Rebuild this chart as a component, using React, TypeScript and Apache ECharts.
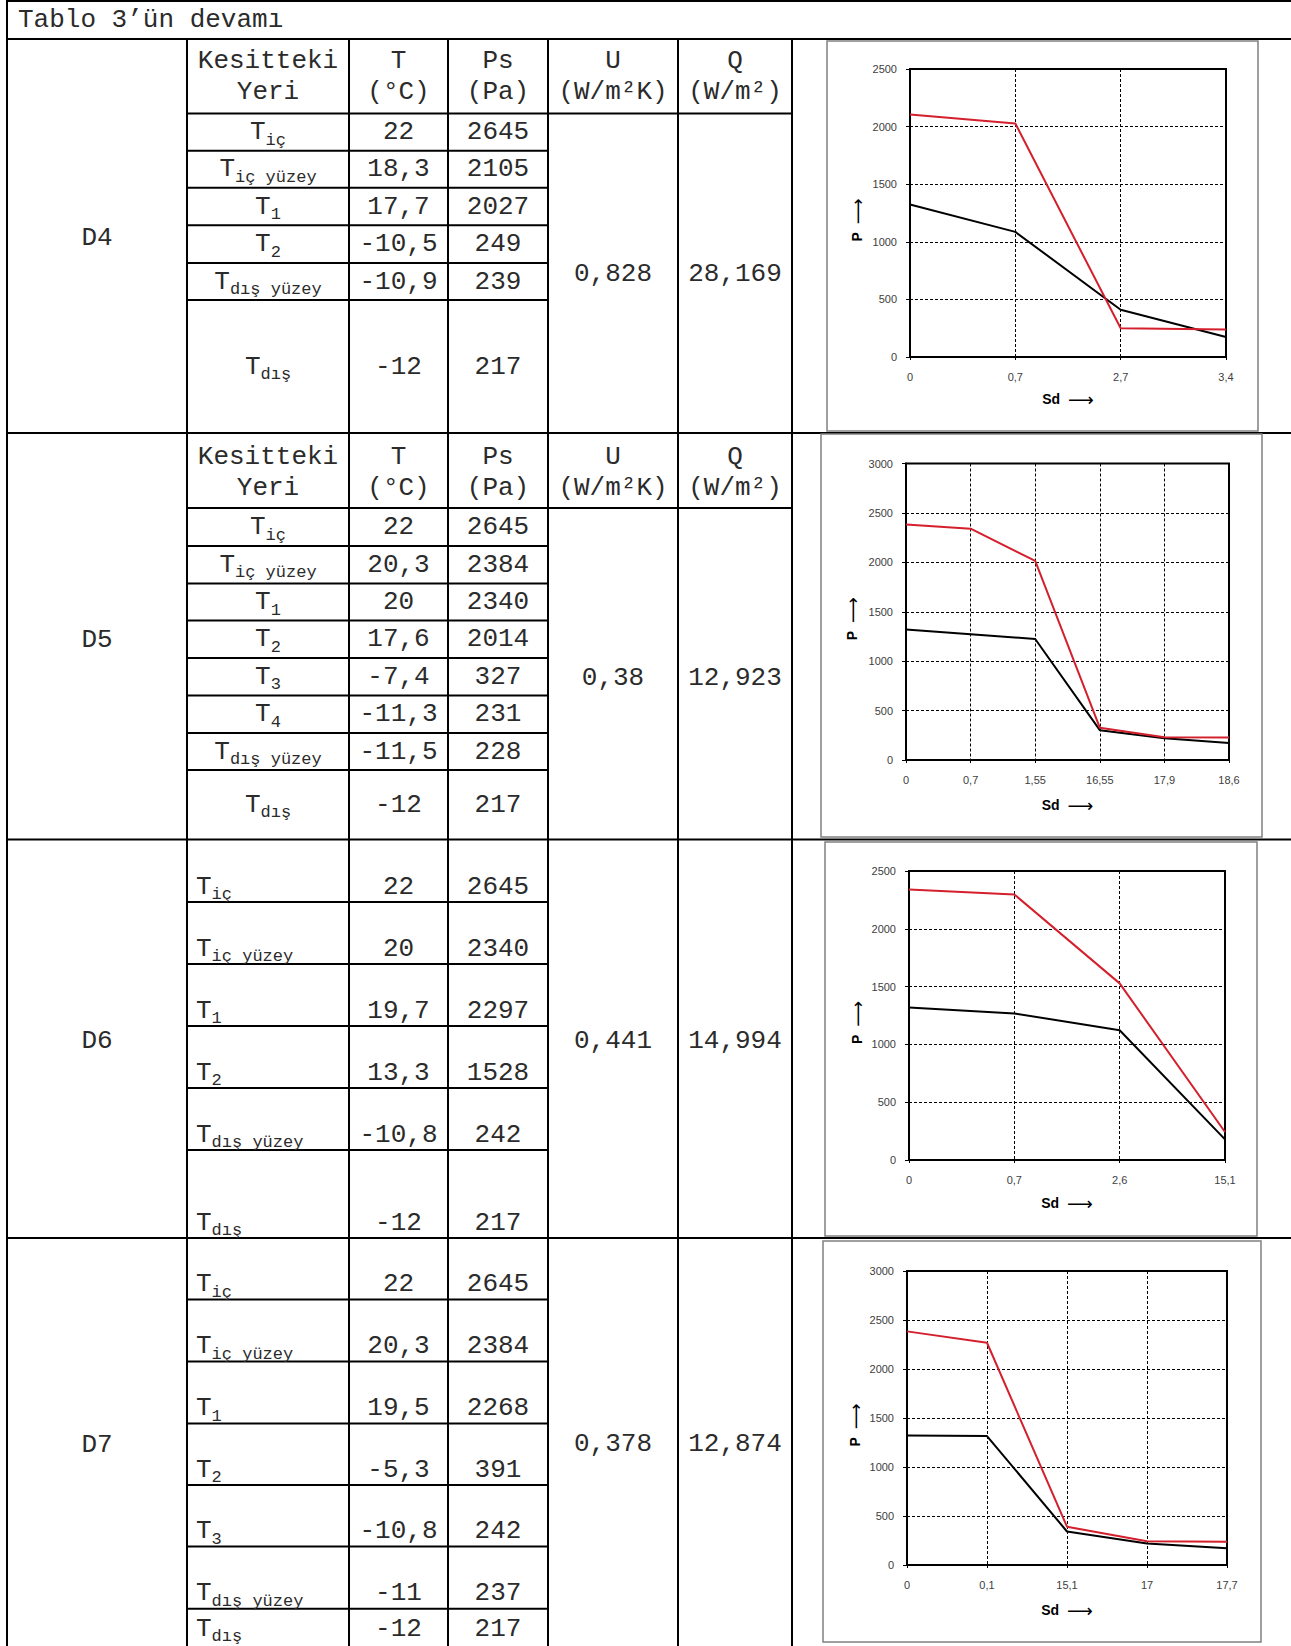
import React, { useEffect, useRef } from 'react';
import * as echarts from 'echarts';

// ---------------- DATA ----------------
// Chart data (Sd categories, saturation pressure Ps = red, vapour pressure P = black)
const d4Sd = ['0', '0,7', '2,7', '3,4'];
const d4Ps = [2105, 2027, 249, 239];
const d4P = [1323, 1086, 410, 174];

const d5Sd = ['0', '0,7', '1,55', '16,55', '17,9', '18,6'];
const d5Ps = [2384, 2340, 2014, 327, 231, 228];
const d5P = [1320, 1272, 1224, 302, 219, 172];

const d6Sd = ['0', '0,7', '2,6', '15,1'];
const d6Ps = [2340, 2297, 1528, 242];
const d6P = [1320, 1268, 1122, 178];

const d7Sd = ['0', '0,1', '15,1', '17', '17,7'];
const d7Ps = [2384, 2268, 391, 242, 237];
const d7P = [1322, 1316, 342, 220, 172];

// Table data
const d4Labels = [['T', 'iç'], ['T', 'iç yüzey'], ['T', '1'], ['T', '2'], ['T', 'dış yüzey'], ['T', 'dış']];
const d4T = ['22', '18,3', '17,7', '-10,5', '-10,9', '-12'];
const d4PsTxt = ['2645', '2105', '2027', '249', '239', '217'];
const d4U = '0,828';
const d4Q = '28,169';

const d5Labels = [['T', 'iç'], ['T', 'iç yüzey'], ['T', '1'], ['T', '2'], ['T', '3'], ['T', '4'], ['T', 'dış yüzey'], ['T', 'dış']];
const d5T = ['22', '20,3', '20', '17,6', '-7,4', '-11,3', '-11,5', '-12'];
const d5PsTxt = ['2645', '2384', '2340', '2014', '327', '231', '228', '217'];
const d5U = '0,38';
const d5Q = '12,923';

const d6Labels = [['T', 'iç'], ['T', 'iç yüzey'], ['T', '1'], ['T', '2'], ['T', 'dış yüzey'], ['T', 'dış']];
const d6T = ['22', '20', '19,7', '13,3', '-10,8', '-12'];
const d6PsTxt = ['2645', '2340', '2297', '1528', '242', '217'];
const d6U = '0,441';
const d6Q = '14,994';

const d7Labels = [['T', 'iç'], ['T', 'iç yüzey'], ['T', '1'], ['T', '2'], ['T', '3'], ['T', 'dış yüzey'], ['T', 'dış']];
const d7T = ['22', '20,3', '19,5', '-5,3', '-10,8', '-11', '-12'];
const d7PsTxt = ['2645', '2384', '2268', '391', '242', '237', '217'];
const d7U = '0,378';
const d7Q = '12,874';

const titleText = 'Tablo 3’ün devamı';
const headerTop = ['Kesitteki', 'T', 'Ps', 'U', 'Q'];
const headerBottom = ['Yeri', '(°C)', '(Pa)', '(W/m²K)', '(W/m²)'];
const xName = 'Sd';
const yName = 'P';

// ---------------- LAYOUT ----------------
const W = 1291;
const H = 1646;
const MONO = "'Courier New', 'Liberation Mono', monospace";
const SANS = "Arial, 'Liberation Sans', sans-serif";
const FS = 26;
const SUB = 17;
const TXT = '#2b2b2b';

const colX = [7, 187, 349, 448, 548, 678, 792];
const colCenter = { d: 97, label: 268, t: 398.5, ps: 498, u: 613, q: 735 };

const blocks = [
  {
    name: 'D4', labels: d4Labels, t: d4T, ps: d4PsTxt, u: d4U, q: d4Q,
    top: 39, header: { y1: 60.5, y2: 91.5, bottom: 113.5 },
    rows: [113.5, 150.7, 187.7, 225.3, 263, 300, 433],
    mode: 'center', dY: 238, uY: 274,
  },
  {
    name: 'D5', labels: d5Labels, t: d5T, ps: d5PsTxt, u: d5U, q: d5Q,
    top: 433, header: { y1: 456.5, y2: 487.5, bottom: 508 },
    rows: [508, 546, 583.5, 620.5, 658, 695.5, 733, 770, 839.5],
    mode: 'center', dY: 640, uY: 677.5,
  },
  {
    name: 'D6', labels: d6Labels, t: d6T, ps: d6PsTxt, u: d6U, q: d6Q,
    top: 839.5, header: null,
    rows: [839.5, 902, 964, 1026, 1088, 1150, 1238],
    mode: 'bottom', dY: 1041, uY: 1041,
  },
  {
    name: 'D7', labels: d7Labels, t: d7T, ps: d7PsTxt, u: d7U, q: d7Q,
    top: 1238, header: null,
    rows: [1238, 1299.5, 1361.5, 1423.5, 1485, 1546.5, 1608.7, 1644],
    mode: 'bottom', dY: 1445, uY: 1444,
  },
];

const charts = [
  { sd: d4Sd, ps: d4Ps, p: d4P, yMax: 2500, grid: { left: 910, top: 69, width: 316, height: 288 }, box: [827, 41, 431, 390], xGap: 35, yGap: 46 },
  { sd: d5Sd, ps: d5Ps, p: d5P, yMax: 3000, grid: { left: 906, top: 463.5, width: 323, height: 296.5 }, box: [821, 434, 441, 403], xGap: 38, yGap: 47 },
  { sd: d6Sd, ps: d6Ps, p: d6P, yMax: 2500, grid: { left: 909, top: 871, width: 316, height: 289 }, box: [825, 842, 432, 394], xGap: 36, yGap: 45 },
  { sd: d7Sd, ps: d7Ps, p: d7P, yMax: 3000, grid: { left: 907, top: 1271, width: 320, height: 294 }, box: [823, 1241, 438, 401], xGap: 38, yGap: 45 },
];

function buildGraphics() {
  const els: any[] = [];
  const hline = (y: number, x1: number, x2: number) =>
    els.push({ type: 'line', shape: { x1, y1: y, x2, y2: y }, style: { stroke: '#000', lineWidth: 2 }, z: 10 });
  const vline = (x: number, y1: number, y2: number) =>
    els.push({ type: 'line', shape: { x1: x, y1, x2: x, y2 }, style: { stroke: '#000', lineWidth: 2 }, z: 10 });
  const txt = (text: string, x: number, y: number, size: number, align: string = 'center') =>
    els.push({
      type: 'text', x, y, z: 11,
      style: {
        text, fontSize: size, fontFamily: MONO, fill: TXT,
        align, verticalAlign: 'middle', textAlign: align, textVerticalAlign: 'middle',
      },
    });
  const label = (main: string, sub: string, x: number, y: number, mode: string) => {
    const wMain = FS * 0.6;
    const wSub = sub.length * SUB * 0.6;
    const x0 = mode === 'center' ? x - (wMain + wSub) / 2 : x;
    txt(main, x0, y, FS, 'left');
    txt(sub, x0 + wMain, y + 8, SUB, 'left');
  };

  // borders
  hline(1, colX[0], W);
  hline(39, colX[0], W);
  vline(colX[0], 0, H);
  for (let i = 1; i < colX.length; i++) vline(colX[i], 39, H);

  // title
  txt(titleText, 18, 19.5, FS, 'left');

  blocks.forEach((b) => {
    hline(b.top, colX[0], W);
    if (b.header) {
      hline(b.header.bottom, colX[1], colX[6]);
      const cx = [colCenter.label, colCenter.t, colCenter.ps, colCenter.u, colCenter.q];
      cx.forEach((x, i) => {
        txt(headerTop[i], x, b.header!.y1, FS);
        txt(headerBottom[i], x, b.header!.y2, FS);
      });
    }
    for (let i = 1; i < b.rows.length - 1; i++) hline(b.rows[i], colX[1], colX[4]);
    for (let i = 0; i < b.labels.length; i++) {
      const a = b.rows[i];
      const c = b.rows[i + 1];
      const y = b.mode === 'center' ? (a + c) / 2 : c - 15.5;
      if (b.mode === 'center') label(b.labels[i][0], b.labels[i][1], colCenter.label, y, 'center');
      else label(b.labels[i][0], b.labels[i][1], 196, y, 'left');
      txt(b.t[i], colCenter.t, y, FS);
      txt(b.ps[i], colCenter.ps, y, FS);
    }
    txt(b.name, colCenter.d, b.dY, FS);
    txt(b.u, colCenter.u, b.uY, FS);
    txt(b.q, colCenter.q, b.uY, FS);
  });

  charts.forEach((c) => {
    els.push({
      type: 'rect', shape: { x: c.box[0], y: c.box[1], width: c.box[2], height: c.box[3] },
      style: { fill: 'none', stroke: '#808080', lineWidth: 1.5 }, z: 12,
    });
  });
  return els;
}

function buildOption() {
  const nameStyle = (pad: number[]) => ({
    fontFamily: SANS, fontSize: 14, color: '#000', padding: pad,
    rich: {
      b: { fontFamily: SANS, fontSize: 14, fontWeight: 'bold', color: '#000' },
      a: { fontFamily: "'DejaVu Sans', sans-serif", fontSize: 18, color: '#000' },
    },
  });
  const dash = { color: '#000', width: 1, type: [3, 2] };
  return {
    animation: false,
    backgroundColor: '#fff',
    graphic: { elements: buildGraphics() },
    grid: charts.map((c) => ({
      ...c.grid, show: true, borderColor: '#000', borderWidth: 2, backgroundColor: 'transparent', containLabel: false,
    })),
    xAxis: charts.map((c, i) => ({
      type: 'category', gridIndex: i, data: c.sd, boundaryGap: false,
      axisLine: { show: true, lineStyle: { color: '#000', width: 2 } },
      axisTick: { show: true, length: 3, inside: false, alignWithLabel: true, lineStyle: { color: '#000', width: 1 } },
      axisLabel: { interval: 0, margin: 14, fontSize: 11, fontFamily: SANS, color: '#404040' },
      splitLine: { show: true, interval: 0, lineStyle: dash },
      name: `{b|${xName}}  {a|⟶}`, nameLocation: 'middle', nameGap: c.xGap - 2, nameTextStyle: nameStyle([0, 0, 0, 0]),
    })),
    yAxis: charts.map((c, i) => ({
      type: 'value', gridIndex: i, min: 0, max: c.yMax, interval: 500,
      axisLine: { show: true, lineStyle: { color: '#000', width: 2 } },
      axisTick: { show: true, length: 4, inside: false, lineStyle: { color: '#000', width: 1 } },
      axisLabel: { margin: 13, fontSize: 11, fontFamily: SANS, color: '#404040', formatter: (v: number) => String(v) },
      splitLine: { show: true, lineStyle: dash },
      name: `{b|${yName}}  {a|⟶}`, nameLocation: 'middle', nameRotate: 90, nameGap: c.yGap - 2, nameTextStyle: nameStyle([0, 14, 0, 0]),
    })),
    series: charts.flatMap((c, i) => [
      {
        type: 'line', name: 'P', xAxisIndex: i, yAxisIndex: i, data: c.p,
        symbol: 'none', showSymbol: false, lineStyle: { color: '#000', width: 2 }, itemStyle: { color: '#000' }, z: 3,
      },
      {
        type: 'line', name: 'Ps', xAxisIndex: i, yAxisIndex: i, data: c.ps,
        symbol: 'none', showSymbol: false, lineStyle: { color: '#d41f2c', width: 2 }, itemStyle: { color: '#d41f2c' }, z: 4,
      },
    ]),
  };
}

export default function App() {
  const ref = useRef<HTMLDivElement>(null);
  useEffect(() => {
    if (!ref.current) return;
    const chart = echarts.init(ref.current, undefined, { renderer: 'svg', width: W, height: H });
    chart.setOption(buildOption() as any);
    return () => chart.dispose();
  }, []);
  return (
    <div
      ref={ref}
      style={{ position: 'absolute', left: 0, top: 0, width: W, height: H, background: '#fff' }}
    />
  );
}
